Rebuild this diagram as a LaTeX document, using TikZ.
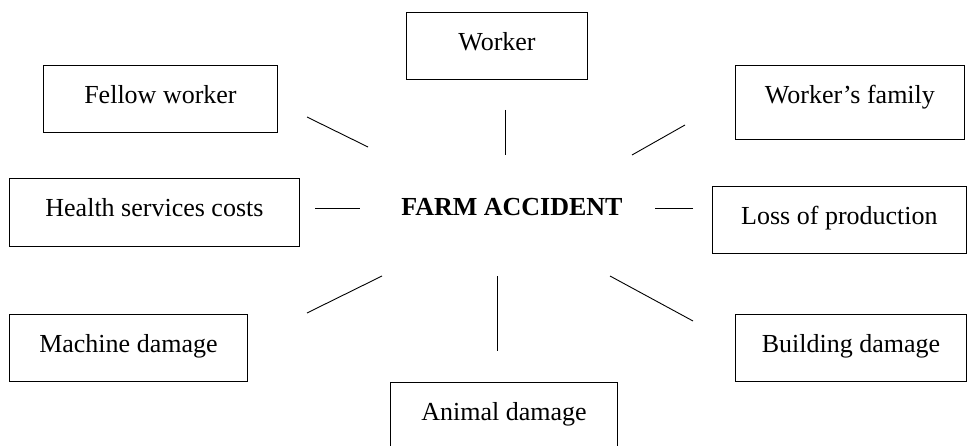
\documentclass[tikz,border=0pt]{standalone}
\usepackage{fontspec}
\setmainfont{Liberation Serif}
\usetikzlibrary{positioning}
\tikzset{
  box/.style={draw, line width=0.9pt, inner sep=0pt, anchor=north west,
    text height=38pt, text depth=29pt, font=\fontsize{26}{30}\selectfont},
  link/.style={line width=0.9pt},
}

\begin{document}
\begin{tikzpicture}[x=1pt, y=-1pt]
  \useasboundingbox (0,0) rectangle (967,446);

  % boxes
  \node[box, minimum width=181pt] (worker) at (406,12) {Worker};
  \node[box, minimum width=234pt] (fellow) at (43,65) {Fellow worker};
  \node[box, minimum width=229pt, text depth=36pt] (family) at (735,65) {Worker’s family};
  \node[box, minimum width=290pt, text depth=30pt] (health) at (9,178) {Health services costs};
  \node[box, minimum width=254pt] (loss) at (712,186) {Loss of production};
  \node[box, minimum width=238pt] (machine) at (9,314) {Machine damage};
  \node[box, minimum width=231pt] (building) at (735,314) {Building damage};
  \node[box, minimum width=227pt, text depth=46pt] (animal) at (390,382) {Animal damage};

  % centre
  \node[anchor=base, font=\fontsize{26}{30}\selectfont\bfseries] (accident) at (512,216) {FARM ACCIDENT};

  % lines
  \coordinate (fellow-a) at (307,117);   \coordinate (fellow-b) at (368,147);
  \coordinate (worker-a) at (505,110);   \coordinate (worker-b) at (505,155);
  \coordinate (family-a) at (685,125);   \coordinate (family-b) at (632,155);
  \coordinate (health-a) at (315,208);   \coordinate (health-b) at (360,208);
  \coordinate (loss-a) at (693,208);     \coordinate (loss-b) at (655,208);
  \coordinate (machine-a) at (307,313);  \coordinate (machine-b) at (382,276);
  \coordinate (animal-a) at (497,351);   \coordinate (animal-b) at (497,276);
  \coordinate (building-a) at (693,321); \coordinate (building-b) at (610,276);

  \foreach \n in {fellow,worker,family,health,loss,machine,animal,building}
    \draw[link] (\n-a) -- (\n-b);
\end{tikzpicture}
\end{document}
